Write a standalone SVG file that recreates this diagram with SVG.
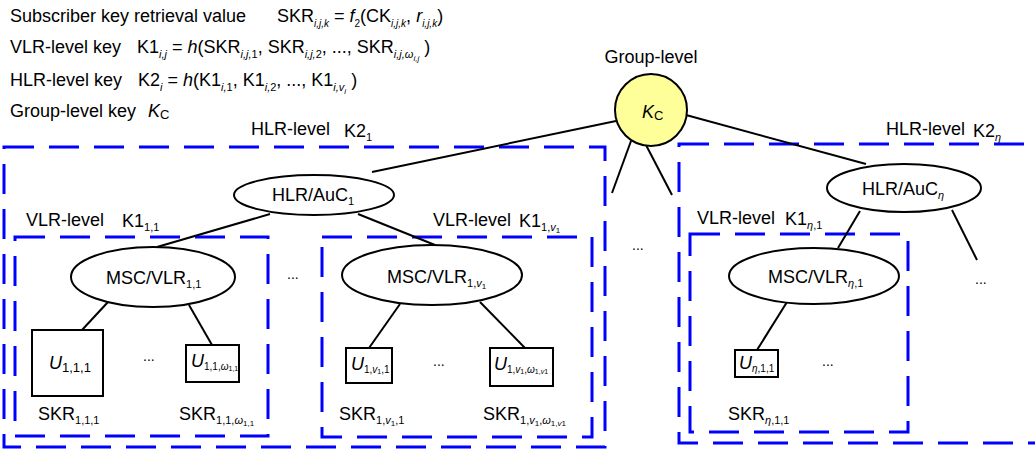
<svg xmlns="http://www.w3.org/2000/svg" width="1035" height="452" viewBox="0 0 1035 452">
<style>
text{font-family:"Liberation Sans",Arial,sans-serif;font-size:18px;fill:#000}
.s{font-size:11px}
.t{font-size:10px}
.ss{font-size:8px}
.sx{font-size:7px}
.m{font-size:13px}
.i{font-style:italic}
.box{fill:none;stroke:#0000FF;stroke-width:3;stroke-dasharray:30 15}
.ln{stroke:#000;stroke-width:2;fill:none}
.nd{fill:#fff;stroke:#000;stroke-width:2}
.kc{fill:#FFFF99;stroke:#000;stroke-width:2}
.d{font-size:14px}
</style>
<rect width="1035" height="452" fill="#fff"/>
<g id="legend">
<text x="10" y="22">Subscriber key retrieval value</text>
<text x="277" y="22">SKR<tspan class="t i" dy="5">i,j,k</tspan><tspan dy="-5"> = </tspan><tspan class="i">f</tspan><tspan class="t" dy="5">2</tspan><tspan dy="-5">(CK</tspan><tspan class="t i" dy="5">i,j,k</tspan><tspan dy="-5">, </tspan><tspan class="i">r</tspan><tspan class="t i" dy="5">i,j,k</tspan><tspan dy="-5">)</tspan></text>
<text x="10" y="53">VLR-level key</text>
<text x="137" y="53">K1<tspan class="s i" dy="5">i,j</tspan><tspan dy="-5"> = </tspan><tspan class="i">h</tspan>(SKR<tspan class="s i" dy="5">i,j,</tspan><tspan class="s" dy="0">1</tspan><tspan dy="-5">, SKR</tspan><tspan class="s i" dy="5">i,j,</tspan><tspan class="s">2</tspan><tspan dy="-5">, ..., SKR</tspan><tspan class="s i" dy="5">i,j,ω</tspan><tspan class="ss i" dy="3">i,j</tspan><tspan dy="-8"> )</tspan></text>
<text x="10" y="86">HLR-level key</text>
<text x="138" y="86">K2<tspan class="s i" dy="5">i</tspan><tspan dy="-5"> = </tspan><tspan class="i">h</tspan>(K1<tspan class="s i" dy="5">i,</tspan><tspan class="s">1</tspan><tspan dy="-5">, K1</tspan><tspan class="s i" dy="5">i,</tspan><tspan class="s">2</tspan><tspan dy="-5">, ..., K1</tspan><tspan class="s i" dy="5">i,v</tspan><tspan class="ss i" dy="3">i</tspan><tspan dy="-8"> )</tspan></text>
<text x="10" y="117">Group-level key</text>
<text x="148" y="117"><tspan class="i">K</tspan><tspan class="m" dy="2">C</tspan></text>
</g>
<g id="boxes">
<rect class="box" x="4" y="147" width="601" height="300"/>
<rect class="box" x="679" y="144" width="400" height="299"/>
<rect class="box" x="15" y="237" width="253" height="199"/>
<rect class="box" x="322" y="237" width="270" height="200"/>
<rect class="box" x="690" y="234" width="218" height="198"/>
</g>
<g id="box-labels">
<text x="251" y="135">HLR-level</text>
<text x="344" y="137">K2<tspan class="s" dy="4">1</tspan></text>
<text x="886" y="135">HLR-level</text>
<text x="973" y="137">K2<tspan class="s i" dy="4">η</tspan></text>
<text x="26" y="226">VLR-level</text>
<text x="122" y="227">K1<tspan class="s" dy="4">1,1</tspan></text>
<text x="433" y="226">VLR-level</text>
<text x="519" y="227">K1<tspan class="s" dy="4">1,</tspan><tspan class="s i">v</tspan><tspan class="ss" dy="2">1</tspan></text>
<text x="697" y="224">VLR-level</text>
<text x="785" y="225">K1<tspan class="s" dy="4"><tspan class="i">η</tspan>,1</tspan></text>
<text x="651" y="63" text-anchor="middle">Group-level</text>
</g>
<g id="connectors">
<line class="ln" x1="616" y1="121" x2="372" y2="172"/>
<line class="ln" x1="631" y1="141" x2="612" y2="193"/>
<line class="ln" x1="646" y1="145" x2="672" y2="195"/>
<line class="ln" x1="686" y1="115" x2="866" y2="164"/>
<line class="ln" x1="270" y1="214" x2="157" y2="247"/>
<line class="ln" x1="358" y1="214" x2="435" y2="245"/>
<line class="ln" x1="108" y1="302" x2="82" y2="330"/>
<line class="ln" x1="189" y1="305" x2="212" y2="345"/>
<line class="ln" x1="400" y1="304" x2="369" y2="348"/>
<line class="ln" x1="480" y1="302" x2="525" y2="348"/>
<line class="ln" x1="860" y1="211" x2="838" y2="248"/>
<line class="ln" x1="952" y1="210" x2="977" y2="260"/>
<line class="ln" x1="787" y1="302" x2="757" y2="350"/>
</g>
<g id="node-kc">
<circle class="kc" cx="651" cy="110" r="36"/>
<text x="642" y="118"><tspan class="i">K</tspan><tspan class="m" dy="2">C</tspan></text>
</g>
<g id="node-hlr1">
<ellipse class="nd" cx="314" cy="195" rx="80" ry="20"/>
<text x="272" y="201">HLR/AuC<tspan class="s" dy="4">1</tspan></text>
</g>
<g id="node-hlreta">
<ellipse class="nd" cx="904" cy="188" rx="77" ry="24"/>
<text x="862" y="195">HLR/AuC<tspan class="s i" dy="4">η</tspan></text>
</g>
<g id="node-msc11">
<ellipse class="nd" cx="153" cy="277" rx="82" ry="30"/>
<text x="106" y="284">MSC/VLR<tspan class="s" dy="4">1,1</tspan></text>
</g>
<g id="node-msc1v1">
<ellipse class="nd" cx="432" cy="275" rx="90" ry="30"/>
<text x="387" y="283">MSC/VLR<tspan class="s" dy="4">1,</tspan><tspan class="s i">v</tspan><tspan class="ss" dy="2">1</tspan></text>
</g>
<g id="node-msceta1">
<ellipse class="nd" cx="814" cy="276" rx="85" ry="28"/>
<text x="768" y="283">MSC/VLR<tspan class="s" dy="4"><tspan class="i">η</tspan>,1</tspan></text>
</g>
<g id="node-u111">
<rect class="nd" x="32" y="330" width="71" height="66"/>
<text x="49" y="369"><tspan class="i">U</tspan><tspan class="m" dy="3">1,1,1</tspan></text>
</g>
<g id="node-u11w">
<rect class="nd" x="186" y="345" width="53" height="37"/>
<text x="191" y="367"><tspan class="i">U</tspan><tspan class="t" dy="3">1,1,<tspan class="i">ω</tspan></tspan><tspan class="sx" dy="1">1,1</tspan></text>
</g>
<g id="node-u1v11">
<rect class="nd" x="346" y="348" width="46" height="35"/>
<text x="351" y="370"><tspan class="i">U</tspan><tspan class="t" dy="3">1,<tspan class="i">v</tspan></tspan><tspan class="sx" dy="1">1</tspan><tspan class="t" dy="-1">,1</tspan></text>
</g>
<g id="node-u1v1w">
<rect class="nd" x="490" y="348" width="63" height="38"/>
<text x="494" y="370"><tspan class="i">U</tspan><tspan class="t" dy="3">1,<tspan class="i">v</tspan></tspan><tspan class="sx" dy="1">1</tspan><tspan class="t" dy="-1">,<tspan class="i">ω</tspan></tspan><tspan class="sx" dy="1">1,<tspan class="i">v</tspan>1</tspan></text>
</g>
<g id="node-ueta11">
<rect class="nd" x="735" y="350" width="43" height="27"/>
<text x="739" y="369"><tspan class="i">U</tspan><tspan class="t" dy="3"><tspan class="i">η</tspan>,1,1</tspan></text>
</g>
<g id="skr-labels">
<text x="38" y="420">SKR<tspan class="s" dy="4">1,1,1</tspan></text>
<text x="179" y="420">SKR<tspan class="s" dy="4">1,1,<tspan class="i">ω</tspan></tspan><tspan class="ss" dy="2">1,1</tspan></text>
<text x="339" y="420">SKR<tspan class="s" dy="4">1,<tspan class="i">v</tspan></tspan><tspan class="ss" dy="2">1</tspan><tspan class="s" dy="-2">,1</tspan></text>
<text x="483" y="420">SKR<tspan class="s" dy="4">1,<tspan class="i">v</tspan></tspan><tspan class="ss" dy="2">1</tspan><tspan class="s" dy="-2">,<tspan class="i">ω</tspan></tspan><tspan class="ss" dy="2">1,<tspan class="i">v</tspan>1</tspan></text>
<text x="728" y="420">SKR<tspan class="s" dy="4"><tspan class="i">η</tspan>,1,1</tspan></text>
</g>
<g id="ellipses-dots">
<text class="d" x="287" y="279">...</text>
<text class="d" x="143" y="361">...</text>
<text class="d" x="433" y="366">...</text>
<text class="d" x="822" y="366">...</text>
<text class="d" x="632" y="250">...</text>
<text class="d" x="975" y="284">...</text>
</g>
</svg>
